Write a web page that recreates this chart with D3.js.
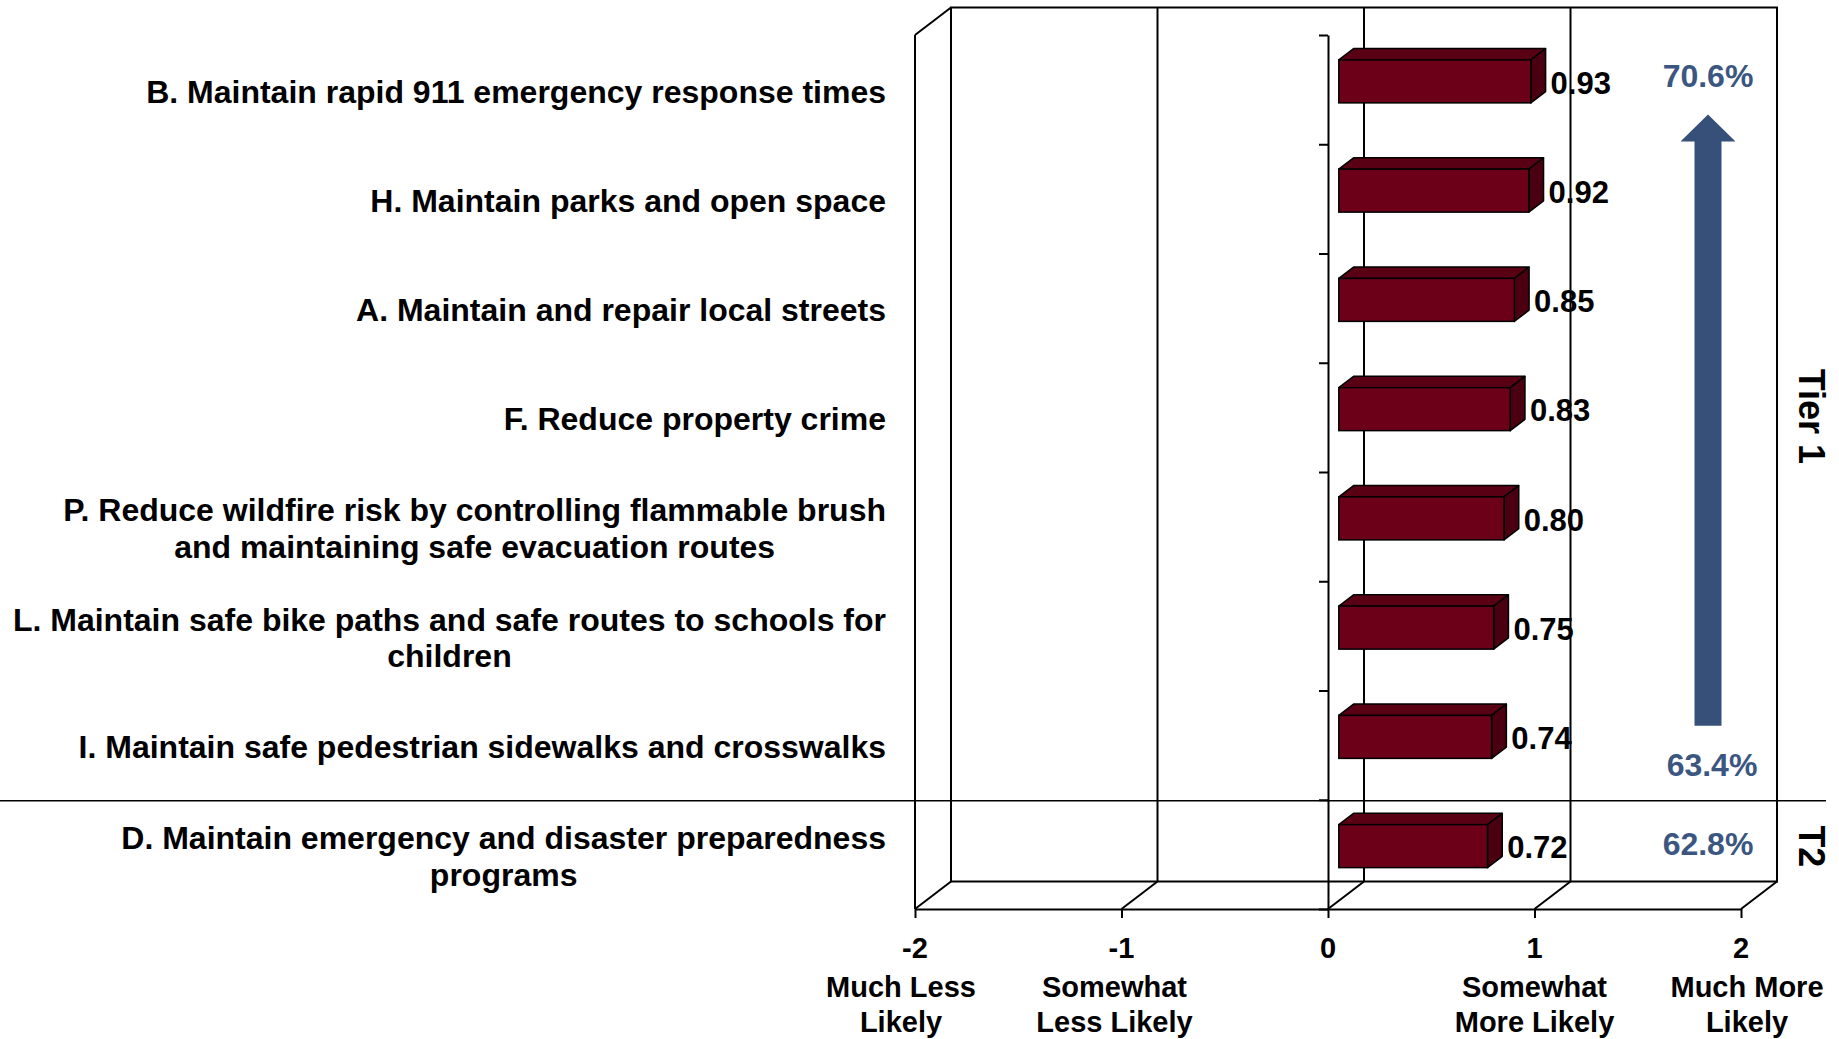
<!DOCTYPE html>
<html>
<head>
<meta charset="utf-8">
<script src="https://d3js.org/d3.v7.min.js"></script>
<style>
  body { margin: 0; background: #fff; }
  text { font-family: "Liberation Sans", Arial, sans-serif; font-weight: bold; }
</style>
</head>
<body>
<div id="chart"></div>
<script>
// data
const categories = [
  "B. Maintain rapid 911 emergency response times",
  "H. Maintain parks and open space",
  "A. Maintain and repair local streets",
  "F. Reduce property crime",
  "P. Reduce wildfire risk by controlling flammable brush|and maintaining safe evacuation routes",
  "L. Maintain safe bike paths and safe routes to schools for|children",
  "I. Maintain safe pedestrian sidewalks and crosswalks",
  "D. Maintain emergency and disaster preparedness|programs"
];
const values = [0.93, 0.92, 0.85, 0.83, 0.80, 0.75, 0.74, 0.72];
const tickValues = [-2, -1, 0, 1, 2];
const tickLabels = [
  ["-2", "Much Less", "Likely"],
  ["-1", "Somewhat", "Less Likely"],
  ["0"],
  ["1", "Somewhat", "More Likely"],
  ["2", "Much More", "Likely"]
];
const tierNames = ["Tier 1", "T2"];
const tierSizes = [7, 1];
const tierTopPct = "70.6%";
const tierBottomPct = "63.4%";
const tier2Pct = "62.8%";

const w = 1839, h = 1039;
const pLeft = 915, pRight = 1741, pTop = 35, pBottom = 909;
const depthX = 36, depthY = -27.5;   // 3d offset of the back wall
const f0 = 0.3, f1 = 0.71;           // bar position inside the depth
const barH = 43;
const descShift = [-14, -7, 0, 0, 6]; // the wrapped descriptions sit a bit off their ticks

const svg = d3.select("#chart").append("svg").attr("width", w).attr("height", h);

const x = d3.scaleLinear().domain([-2, 2]).range([pLeft, pRight]);
const y = d3.scaleBand().domain(categories).range([pTop, pBottom]);
const rows = d3.scaleLinear().domain([0, categories.length]).range([pTop, pBottom]);

const line = (x1, y1, x2, y2, sw) => svg.append("line")
  .attr("x1", x1).attr("y1", y1).attr("x2", x2).attr("y2", y2)
  .attr("stroke", "#000").attr("stroke-width", sw || 2);

// back wall + gridlines
svg.append("rect")
  .attr("x", x(-2) + depthX).attr("y", pTop + depthY)
  .attr("width", x(2) - x(-2)).attr("height", pBottom - pTop)
  .attr("fill", "none").attr("stroke", "#000").attr("stroke-width", 2);
tickValues.forEach(t => {
  line(x(t) + depthX, pTop + depthY, x(t) + depthX, pBottom + depthY);
  // floor diagonals
  line(x(t), pBottom, x(t) + depthX, pBottom + depthY);
});
// left side wall
line(x(-2), pTop, x(-2), pBottom);
line(x(-2), pTop, x(-2) + depthX, pTop + depthY);

// tier separator
let acc = 0;
tierSizes.slice(0, -1).forEach(s => {
  acc += s;
  line(0, rows(acc) + 1, 1826, rows(acc) + 1, 1.6);
});

// front floor axis
const xAxis = d3.axisBottom(x).tickValues(tickValues).tickSize(9).tickSizeOuter(0).tickFormat("");
const gx = svg.append("g").attr("transform", `translate(0,${pBottom})`).call(xAxis);
gx.selectAll("path,line").attr("stroke", "#000").attr("stroke-width", 2);

tickValues.forEach((t, i) => {
  const tx = svg.append("text").attr("x", x(t)).attr("y", 958)
    .attr("text-anchor", "middle").attr("font-size", 29);
  tickLabels[i].forEach((s, j) => {
    tx.append("tspan").attr("x", x(t) + (j === 0 ? 0 : descShift[i]))
      .attr("y", 958 + (j === 0 ? 0 : 39 + (j - 1) * 35)).text(s);
  });
});

// zero axis with ticks at row boundaries
const yAxis = d3.axisLeft(rows).ticks(categories.length).tickSize(9).tickSizeOuter(0).tickFormat("");
const gy = svg.append("g").attr("transform", `translate(${x(0)},0)`).call(yAxis);
gy.selectAll("path,line").attr("stroke", "#000").attr("stroke-width", 2);

// 3d bars
const bdx = (f1 - f0) * depthX, bdy = (f1 - f0) * depthY;
const bars = svg.append("g").selectAll("g").data(categories).join("g");
bars.each(function (c, i) {
  const g = d3.select(this);
  const cy = y(c) + y.bandwidth() / 2 + f0 * depthY;
  const x0 = x(0) + f0 * depthX, x1 = x(values[i]) + f0 * depthX;
  const yt = cy - barH / 2, yb = cy + barH / 2;
  g.append("polygon")
    .attr("points", [[x0, yt], [x1, yt], [x1 + bdx, yt + bdy], [x0 + bdx, yt + bdy]].join(" "))
    .attr("fill", "#5a0014").attr("stroke", "#000").attr("stroke-width", 1.5).attr("stroke-linejoin", "round");
  g.append("polygon")
    .attr("points", [[x1, yt], [x1 + bdx, yt + bdy], [x1 + bdx, yb + bdy], [x1, yb]].join(" "))
    .attr("fill", "#4a0010").attr("stroke", "#000").attr("stroke-width", 1.5).attr("stroke-linejoin", "round");
  g.append("rect").attr("x", x0).attr("y", yt).attr("width", x1 - x0).attr("height", barH)
    .attr("fill", "#6c0018").attr("stroke", "#000").attr("stroke-width", 1.5);
  g.append("text").attr("x", x1 + bdx + 5).attr("y", cy + 1).attr("dy", "0.36em")
    .attr("font-size", 31).text(values[i].toFixed(2));
});

// category labels (multi-line ones are centred in a right-aligned block)
const labelRight = 886;
categories.forEach(c => {
  const lines = c.split("|");
  const cy = y(c) + y.bandwidth() / 2 + 1.5;
  const t = svg.append("text").attr("font-size", 32).attr("text-anchor", lines.length > 1 ? "middle" : "end");
  const spans = lines.map((s, j) => t.append("tspan")
    .attr("y", cy + (j - (lines.length - 1) / 2) * 36.5).attr("dy", "0.36em").text(s));
  if (lines.length > 1) {
    const maxW = d3.max(spans, s => s.node().getComputedTextLength());
    spans.forEach(s => s.attr("x", labelRight - maxW / 2));
  } else {
    spans[0].attr("x", labelRight);
  }
});

// tier labels, rotated
acc = 0;
tierNames.forEach((n, i) => {
  const ty = (rows(acc) + rows(acc + tierSizes[i])) / 2 - (i === 0 ? 1 : 8);
  acc += tierSizes[i];
  svg.append("text").attr("transform", `translate(1812,${ty}) rotate(90)`)
    .attr("text-anchor", "middle").attr("dy", "0.36em").attr("font-size", 36).text(n);
});

// percentages and arrow
const blue = "#3b5680";
const pctX = 1708;
const firstCy = y(categories[0]) + y.bandwidth() / 2 + f0 * depthY;
const lastCy = y(categories[categories.length - 1]) + y.bandwidth() / 2 + f0 * depthY;
const topPctY = firstCy - 6;
const botPctY = rows(tierSizes[0]) - 35;
[[tierTopPct, topPctY, 0], [tierBottomPct, botPctY, 4], [tier2Pct, lastCy - 3, 0]].forEach(([s, py, dx]) => {
  svg.append("text").attr("x", pctX + dx).attr("y", py).attr("dy", "0.36em")
    .attr("text-anchor", "middle").attr("font-size", 32).attr("fill", blue).text(s);
});
const tipY = topPctY + 39, headY = tipY + 27, tailY = botPctY - 39;
svg.append("polygon")
  .attr("points", [[pctX, tipY], [pctX + 27.5, headY], [pctX + 13.5, headY], [pctX + 13.5, tailY],
                   [pctX - 13.5, tailY], [pctX - 13.5, headY], [pctX - 27.5, headY]].join(" "))
  .attr("fill", "#36507a");
</script>
</body>
</html>
